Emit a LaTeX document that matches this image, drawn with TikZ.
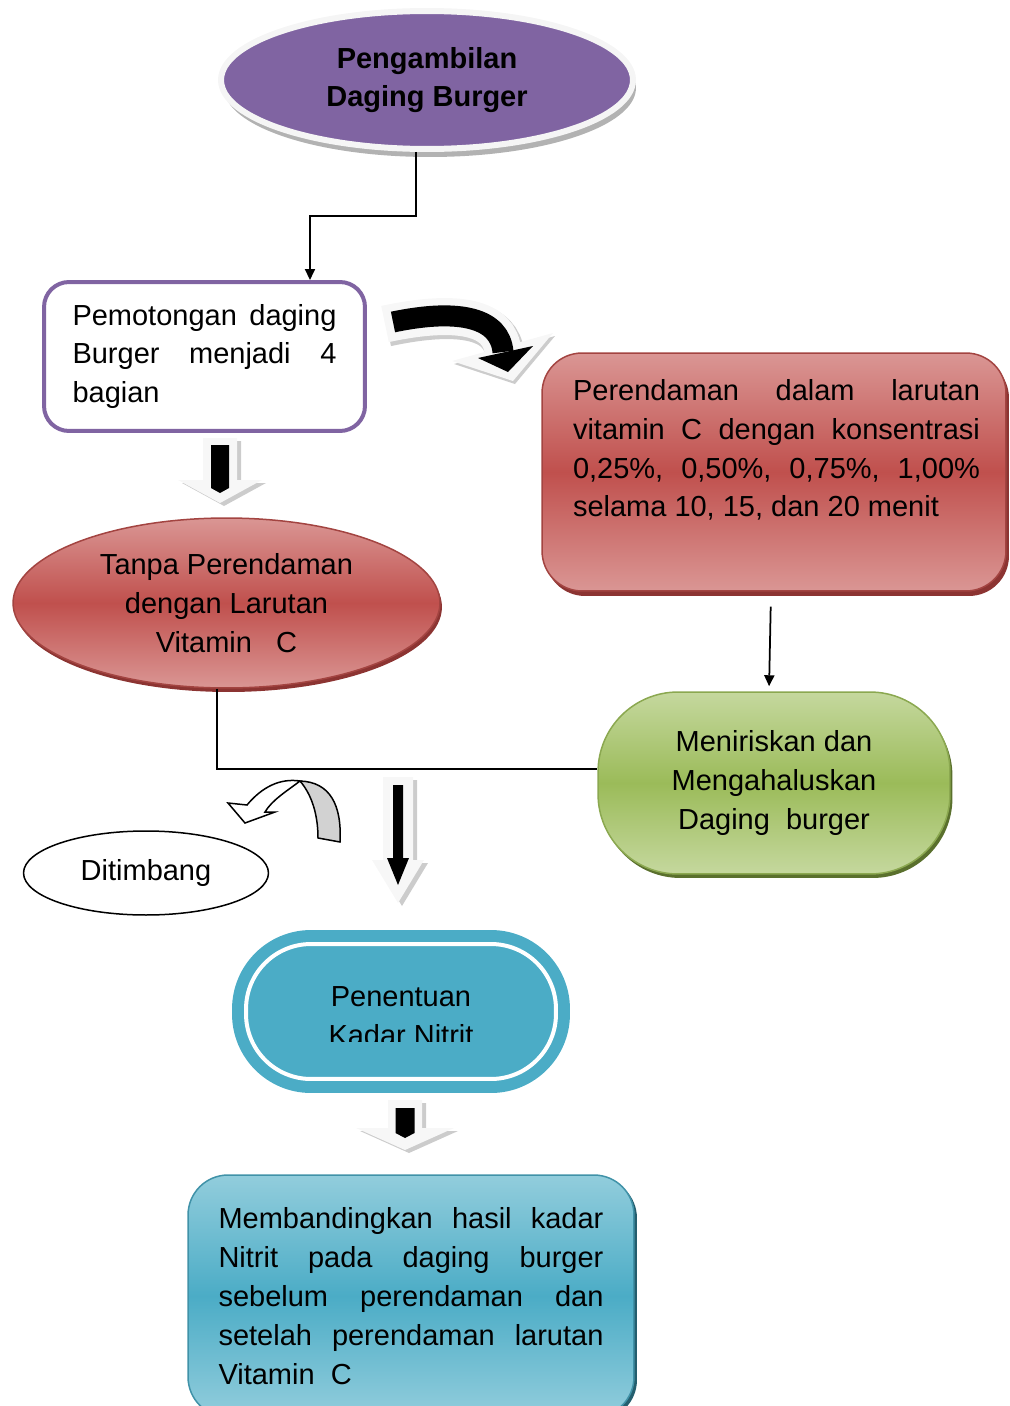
\documentclass[tikz,border=0pt]{standalone}
\usepackage{fontspec}
\setmainfont{Liberation Sans}
\usepackage{tikz}
\usetikzlibrary{arrows.meta}
\usetikzlibrary{shapes.geometric}
\usetikzlibrary{shadows}

\definecolor{burgerpurple}{RGB}{128,100,162}
\definecolor{soaklight}{RGB}{218,150,148}
\definecolor{soakmid}{RGB}{192,80,77}
\definecolor{soakdark}{RGB}{140,52,50}
\definecolor{drainlight}{RGB}{197,216,158}
\definecolor{drainmid}{RGB}{155,187,89}
\definecolor{draindark}{RGB}{90,112,45}
\definecolor{nitritblue}{RGB}{75,172,198}
\definecolor{comparelight}{RGB}{146,205,220}
\definecolor{comparedark}{RGB}{36,94,110}

\tolerance=10000
\hyphenpenalty=10000

\begin{document}
\begin{tikzpicture}[x=0.02cm, y=-0.02cm, >={Triangle[length=0.22cm, width=0.2cm]},
        every node/.style={font=\fontsize{16.5}{22.1}\selectfont},
        flow/.style={->, line width=0.035cm},
        link/.style={line width=0.035cm},
        boxtext/.style={align=justify, text width=#1, inner sep=0pt},
        arrowface/.style={fill=gray!6},
        arrowshade/.style={fill=gray!40},
        outline/.style={draw=black, line width=0.03cm}]
        \useasboundingbox (0,0) rectangle (1009,1406);

        \node [ellipse, minimum width=8.24cm, minimum height=2.76cm, fill=burgerpurple, draw=gray!8, line width=0.12cm,
               drop shadow={shadow xshift=0.06cm, shadow yshift=-0.16cm, fill=gray!60, opacity=1},
               align=center, font=\fontsize{16.5}{22.1}\selectfont\bfseries] (take) at (427,80) {Pengambilan\\Daging Burger};

        \node [rectangle, rounded corners=0.5cm, minimum width=6.42cm, minimum height=2.98cm, draw=burgerpurple,
               line width=0.08cm, fill=white, boxtext=5.28cm] (cut) at (204.5,356.5)
               {Pemotongan daging\linebreak Burger menjadi 4\linebreak bagian};

        \node [rectangle, rounded corners=0.8cm, minimum width=9.28cm, minimum height=4.76cm, draw=soakmid!85!black,
               line width=0.03cm, top color=soaklight, bottom color=soaklight, middle color=soakmid,
               drop shadow={shadow xshift=0.06cm, shadow yshift=-0.1cm, fill=soakdark, opacity=1}] (soak) at (774,472) {};
        \node [boxtext=8.14cm] (soaktxt) at (776.5,450)
               {Perendaman dalam larutan\linebreak vitamin C dengan konsentrasi\linebreak 0,25\%, 0,50\%, 0,75\%, 1,00\%\linebreak selama 10, 15, dan 20 menit};

        \node [ellipse, minimum width=8.54cm, minimum height=3.4cm, draw=soakmid!85!black, line width=0.03cm,
               top color=soaklight, bottom color=soaklight, middle color=soakmid,
               drop shadow={shadow xshift=0.04cm, shadow yshift=-0.08cm, fill=soakdark, opacity=1},
               align=center] (plain) at (226.5,603) {Tanpa Perendaman\\dengan Larutan\\Vitamin\ \ \ C};

        \node [rectangle, rounded corners=1.6cm, minimum width=7.04cm, minimum height=3.64cm, draw=drainmid!90!black,
               line width=0.03cm, top color=drainlight, bottom color=drainlight, middle color=drainmid,
               drop shadow={shadow xshift=0.05cm, shadow yshift=-0.08cm, fill=draindark, opacity=1},
               align=center] (drain) at (774,783) {Meniriskan dan\\Mengahaluskan\\Daging\ \ burger};

        \node [ellipse, minimum width=4.9cm, minimum height=1.68cm, fill=white, outline] (weigh) at (146,873) {Ditimbang\hspace{0.24cm}};

        \node [rectangle, rounded corners=1.3cm, minimum width=6.2cm, minimum height=2.7cm, fill=nitritblue,
               draw=nitritblue, line width=0.24cm, double=white, double distance=0.08cm] (nitrit) at (401,1011.5) {};
        \begin{scope}
            \clip (232,930) rectangle (570,1041);
            \node [align=center] (nitrittxt) at (401,1016) {Penentuan\\Kadar Nitrit};
        \end{scope}

        \node [rectangle, rounded corners=0.8cm, minimum width=8.92cm, minimum height=4.84cm, draw=nitritblue!85!black,
               line width=0.03cm, top color=comparelight, bottom color=comparelight, middle color=nitritblue,
               drop shadow={shadow xshift=0.06cm, shadow yshift=-0.06cm, fill=comparedark, opacity=1},
               boxtext=7.7cm] (compare) at (411,1296)
               {Membandingkan hasil kadar\linebreak Nitrit pada daging burger\linebreak sebelum perendaman dan\linebreak setelah perendaman larutan\linebreak Vitamin\ \ C};

        \draw [flow] ([xshift=-0.22cm]take.south) -- ++(0,64) -| ([xshift=2.11cm]cut.north);
        \draw [flow, shorten <=0.3cm, shorten >=0.1cm] ([xshift=-0.06cm]soak.south) -- ([xshift=-0.1cm]drain.north);
        \draw [link] ([xshift=-0.19cm]plain.south) |- ([yshift=0.28cm]drain.west);

        \draw [line width=0.78cm, gray!40, shift={(2,3)}] (385,324) .. controls (460,308) and (500,318) .. (503,352);
        \fill [arrowshade, shift={(2,3)}] (452,361) -- (553,333) -- (513,381) -- cycle;
        \draw [line width=0.74cm, gray!6] (385,324) .. controls (460,308) and (500,318) .. (503,352);
        \fill [arrowface] (452,361) -- (553,333) -- (513,381) -- cycle;
        \draw [line width=0.42cm] (393,322) .. controls (460,308) and (500,318) .. (503,352);
        \fill (478,358) -- (533,346) -- (508,372) -- cycle;

        \filldraw [fill=gray!35, outline] (318,838) -- (340,842) .. controls (342,805) and (330,782) .. (300,781)
                .. controls (312,795) and (318,815) .. cycle;
        \filldraw [fill=white, outline] (300,781) .. controls (280,778) and (262,787) .. (247,805) -- (228,803)
                -- (245,823) -- (275,812) -- (265,812) .. controls (272,800) and (287,791) .. (300,781) -- cycle;

        \foreach \cx/\ty/\hy/\py/\sw/\hw/\iw/\ity/\ihy/\ihw/\ipy in
                {220/438/480/503/17/42/9/445/488/9/493,
                 398/777/860/903/15/26/5/785/858/11/885,
                 405/1100/1128/1150/17/49/9.5/1108/1133/9.5/1138}
        {
            \fill [arrowshade, shift={(4,3)}] (\cx-\sw,\ty) -- (\cx+\sw,\ty) -- (\cx+\sw,\hy) -- (\cx+\hw,\hy)
                -- (\cx,\py) -- (\cx-\hw,\hy) -- (\cx-\sw,\hy) -- cycle;
            \fill [arrowface] (\cx-\sw,\ty) -- (\cx+\sw,\ty) -- (\cx+\sw,\hy) -- (\cx+\hw,\hy)
                -- (\cx,\py) -- (\cx-\hw,\hy) -- (\cx-\sw,\hy) -- cycle;
            \fill (\cx-\iw,\ity) -- (\cx+\iw,\ity) -- (\cx+\iw,\ihy) -- (\cx+\ihw,\ihy)
                -- (\cx,\ipy) -- (\cx-\ihw,\ihy) -- (\cx-\iw,\ihy) -- cycle;
        }
\end{tikzpicture}
\end{document}
